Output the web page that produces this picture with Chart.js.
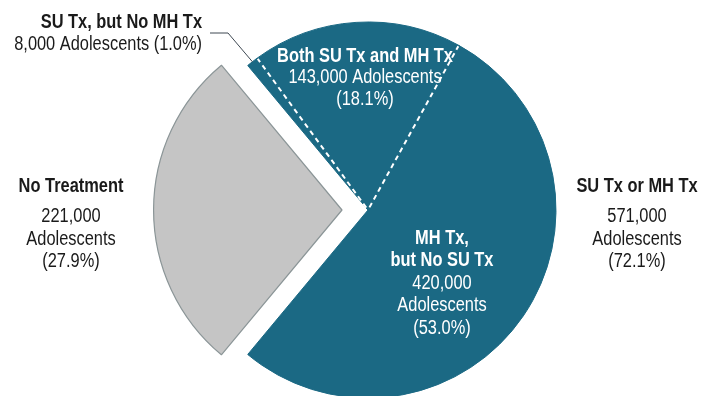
<!DOCTYPE html>
<html>
<head>
<meta charset="utf-8">
<script src="https://cdn.jsdelivr.net/npm/chart.js@4"></script>
<style>
html, body { margin: 0; padding: 0; background: #fff; }
</style>
</head>
<body>
<canvas id="mycanvas" width="702" height="396"></canvas>
<script>
// slices, in drawing order (clockwise, starting at the lower left)
var categories = ["No Treatment", "SU Tx, but No MH Tx", "Both SU Tx and MH Tx", "MH Tx, but No SU Tx"];
var adolescents = [221000, 8000, 143000, 420000];
var percents = [27.9, 1.0, 18.1, 53.0];
// the combined teal group
var groupLabel = "SU Tx or MH Tx";
var groupAdolescents = 571000;
var groupPercent = 72.1;

var FONT = '"Liberation Sans", Arial, sans-serif';
var SQUEEZE = 0.82; // narrow look, no condensed face installed

function fmt(n) { return n.toLocaleString("en-US"); }
function pct(p) { return "(" + p.toFixed(1) + "%)"; }

function drawLines(ctx, x, lines, align, color) {
	ctx.textAlign = align;
	ctx.textBaseline = "alphabetic";
	ctx.fillStyle = color;
	for (var i in lines) {
		ctx.save();
		ctx.font = (lines[i].bold ? "bold " : "") + "20px " + FONT;
		ctx.translate(x, lines[i].y);
		ctx.scale(SQUEEZE, 1);
		ctx.fillText(lines[i].text, 0, 0);
		ctx.restore();
	}
}

var labelPlugin = {
	id: "pieLabels",
	afterDatasetsDraw: function(chart) {
		var ctx = chart.ctx;
		var arcs = chart.getDatasetMeta(0).data;
		var cx = arcs[2].x, cy = arcs[2].y, R = arcs[2].outerRadius;

		// dashed dividers inside the teal group
		ctx.save();
		ctx.strokeStyle = "#ffffff";
		ctx.lineWidth = 2;
		ctx.setLineDash([5, 4]);
		[2, 3].forEach(function(i) {
			var a = arcs[i].startAngle;
			ctx.beginPath();
			ctx.moveTo(cx + Math.cos(a) * 3, cy + Math.sin(a) * 3);
			ctx.lineTo(cx + Math.cos(a) * (R - 1), cy + Math.sin(a) * (R - 1));
			ctx.stroke();
		});
		ctx.restore();

		// leader line to the 1% slice
		var small = arcs[1];
		var mid = (small.startAngle + small.endAngle) / 2;
		ctx.save();
		ctx.strokeStyle = "#3e4852";
		ctx.lineWidth = 1;
		ctx.beginPath();
		ctx.moveTo(cx - 158, cy - 177);
		ctx.lineTo(cx - 140, cy - 177);
		ctx.lineTo(cx + Math.cos(mid) * R, cy + Math.sin(mid) * R);
		ctx.stroke();
		ctx.restore();

		ctx.save();
		// top-left callout
		drawLines(ctx, cx - 166, [
			{text: categories[1], bold: true, y: cy - 182},
			{text: fmt(adolescents[1]) + " Adolescents " + pct(percents[1]), y: cy - 160}
		], "right", "#1a1a1a");

		// no treatment (left)
		drawLines(ctx, cx - R - 26 - 83, [
			{text: categories[0], bold: true, y: cy - 18},
			{text: fmt(adolescents[0]), y: cy + 12},
			{text: "Adolescents", y: cy + 35},
			{text: pct(percents[0]), y: cy + 57}
		], "center", "#1a1a1a");

		// group total (right)
		drawLines(ctx, cx + R + 81, [
			{text: groupLabel, bold: true, y: cy - 18},
			{text: fmt(groupAdolescents), y: cy + 12},
			{text: "Adolescents", y: cy + 35},
			{text: pct(groupPercent), y: cy + 57}
		], "center", "#1a1a1a");

		// both
		drawLines(ctx, cx - 3, [
			{text: categories[2], bold: true, y: cy - 148},
			{text: fmt(adolescents[2]) + " Adolescents", y: cy - 127},
			{text: pct(percents[2]), y: cy - 105}
		], "center", "#ffffff");

		// MH only
		drawLines(ctx, cx + 74, [
			{text: "MH Tx,", bold: true, y: cy + 33.5},
			{text: "but No SU Tx", bold: true, y: cy + 56},
			{text: fmt(adolescents[3]), y: cy + 78.5},
			{text: "Adolescents", y: cy + 101},
			{text: pct(percents[3]), y: cy + 123.5}
		], "center", "#ffffff");
		ctx.restore();
	}
};

var teal = "#1b6984";
var chartdata = {
	labels: categories,
	datasets: [
		{
			data: adolescents,
			backgroundColor: ["#c5c5c5", teal, teal, teal],
			borderColor: ["#8b9597", teal, teal, teal],
			borderWidth: [1.2, 1, 1, 1],
			offset: [104, 0, 0, 0]
		}
	]
};

var ctx = document.getElementById("mycanvas");

var PieGraph = new Chart(ctx, {
	type: "pie",
	data: chartdata,
	options: {
		responsive: false,
		animation: false,
		events: [],
		rotation: 270 - 27.9 * 3.6 / 2,
		radius: 188,
		layout: { padding: { left: 34, right: 0, top: 24, bottom: 0 } },
		plugins: {
			legend: { display: false },
			tooltip: { enabled: false }
		}
	},
	plugins: [labelPlugin]
});
</script>
</body>
</html>
